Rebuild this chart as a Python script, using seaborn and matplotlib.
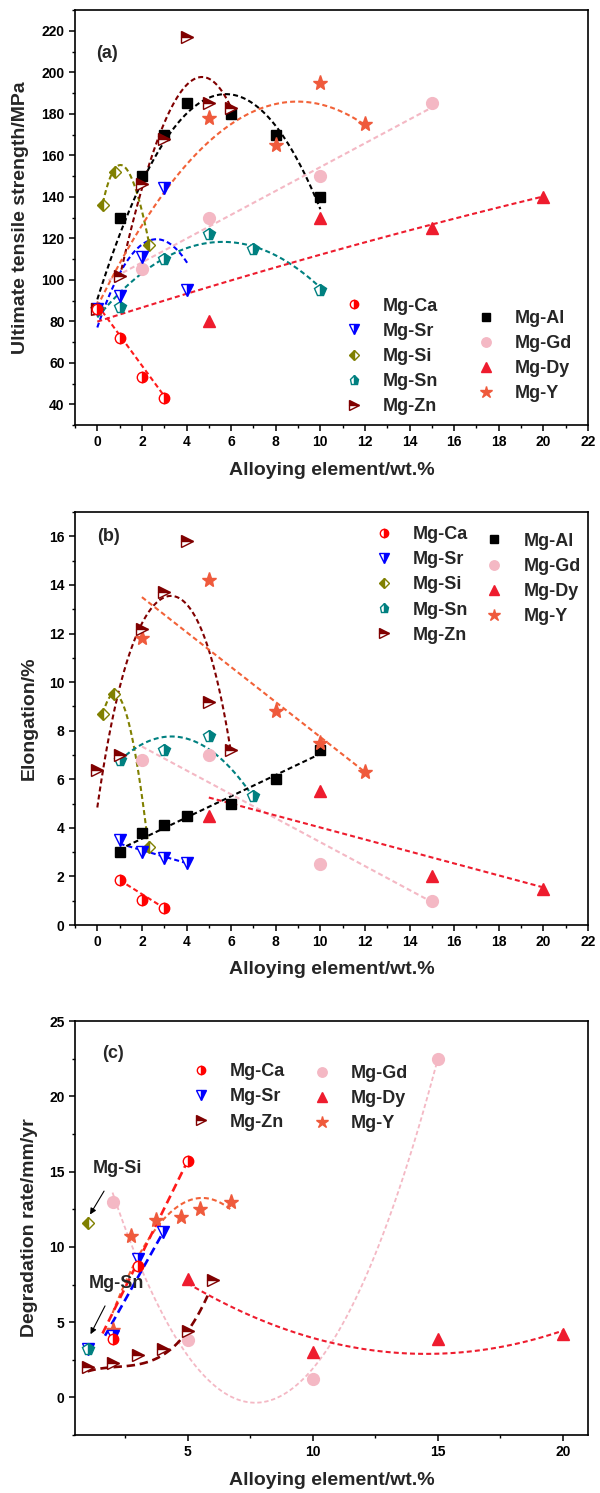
import numpy as np
import pandas as pd
import matplotlib
matplotlib.use("Agg")
import matplotlib.pyplot as plt
from matplotlib.ticker import MultipleLocator
import seaborn as sns

# ---------------- Panel (a): ultimate tensile strength (MPa) ----------------
A_CA_X = [0, 1, 2, 3];            A_CA_Y = [86, 72, 53, 43]
A_SR_X = [0, 1, 2, 3, 4];         A_SR_Y = [86, 92, 111, 144, 95]
A_SI_X = [0.25, 0.8, 2.3];        A_SI_Y = [136, 152, 117]
A_SN_X = [0, 1, 3, 5, 7, 10];     A_SN_Y = [86, 87, 110, 122, 115, 95]
A_ZN_X = [0, 1, 2, 3, 4, 5, 6];   A_ZN_Y = [86, 102, 146, 168, 217, 185, 183]
A_AL_X = [1, 2, 3, 4, 6, 8, 10];  A_AL_Y = [130, 150, 170, 185, 180, 170, 140]
A_GD_X = [2, 5, 10, 15];          A_GD_Y = [105, 130, 150, 185]
A_DY_X = [5, 10, 15, 20];         A_DY_Y = [80, 130, 125, 140]
A_Y_X = [0, 5, 8, 10, 12];        A_Y_Y = [86, 178, 165, 195, 175]

# trend curves of panel (a)
A_CA_FX = [0, 3];                               A_CA_FY = [88, 44]
A_SR_FX = [0, 1, 2, 2.7, 3.5, 4.1];             A_SR_FY = [78, 101, 117, 120.7, 116, 106]
A_SI_FX = [0.25, 0.6, 1.1, 1.5, 1.8, 2.35];     A_SI_FY = [137, 150, 155, 150, 141, 116]
A_SN_FX = [0, 2, 4, 5.6, 7, 8.5, 10];           A_SN_FY = [82, 103, 115, 118.5, 116, 109, 96]
A_ZN_FX = [1, 2, 2.75, 3.5, 4.45, 5.5, 6.1];    A_ZN_FY = [101, 146, 163, 191, 198, 189, 182]
A_AL_FX = [0, 1, 2, 3, 4, 5.6, 7, 8, 9.3, 10];  A_AL_FY = [90, 122, 148, 166, 180, 189, 184, 174, 154, 132]
A_GD_FX = [0.5, 2, 5, 10, 15];                  A_GD_FY = [100, 109, 124, 155, 183]
A_DY_FX = [0, 4, 10, 15, 20];                   A_DY_FY = [80, 93, 112, 127, 140]
A_Y_FX = [0, 3, 5, 7.3, 9, 12];                 A_Y_FY = [86, 145, 165, 182, 185.5, 175]

# ---------------- Panel (b): elongation (%) ----------------
B_CA_X = [1, 2, 3];               B_CA_Y = [1.85, 1.05, 0.7]
B_SR_X = [1, 2, 3, 4];            B_SR_Y = [3.5, 3.0, 2.75, 2.55]
B_SI_X = [0.25, 0.75, 2.3];       B_SI_Y = [8.7, 9.5, 3.2]
B_SN_X = [1, 3, 5, 7];            B_SN_Y = [6.8, 7.2, 7.8, 5.3]
B_ZN_X = [0, 1, 2, 3, 4, 5, 6];   B_ZN_Y = [6.4, 7.0, 12.2, 13.7, 15.8, 9.2, 7.2]
B_AL_X = [1, 2, 3, 4, 6, 8, 10];  B_AL_Y = [3.0, 3.8, 4.1, 4.5, 5.0, 6.0, 7.2]
B_GD_X = [2, 5, 10, 15];          B_GD_Y = [6.8, 7.0, 2.5, 1.0]
B_DY_X = [5, 10, 15, 20];         B_DY_Y = [4.5, 5.5, 2.0, 1.5]
B_Y_X = [2, 5, 8, 10, 12];        B_Y_Y = [11.8, 14.2, 8.8, 7.5, 6.3]

B_CA_FX = [1, 3];                               B_CA_FY = [1.85, 0.7]
B_SR_FX = [1, 4];                               B_SR_FY = [3.35, 2.55]
B_SI_FX = [0.25, 0.6, 0.95, 1.47, 2.0, 2.25];   B_SI_FY = [8.7, 9.4, 9.5, 8.0, 5.4, 3.5]
B_SN_FX = [1, 2, 3.5, 5, 5.9, 6.8];             B_SN_FY = [6.8, 7.4, 7.7, 7.35, 6.5, 5.5]
B_ZN_FX = [0, 0.5, 1.3, 2, 2.5, 3.2, 4, 4.8, 5.4, 5.8, 6]
B_ZN_FY = [4.8, 7.7, 10.9, 12.1, 13.2, 13.7, 13.2, 11.7, 10.2, 7.9, 7.2]
B_AL_FX = [1.3, 10];                            B_AL_FY = [3.25, 7.05]
B_GD_FX = [2, 15];                              B_GD_FY = [7.35, 0.95]
B_DY_FX = [5, 20];                              B_DY_FY = [5.25, 1.55]
B_Y_FX = [2, 12];                               B_Y_FY = [13.5, 6.3]

# ---------------- Panel (c): degradation rate (mm/yr) ----------------
C_CA_X = [2, 3, 5];               C_CA_Y = [3.9, 8.7, 15.7]
C_SR_X = [1, 2, 3, 4];            C_SR_Y = [3.25, 4.1, 9.2, 11.0]
C_ZN_X = [1, 2, 3, 4, 5, 6];      C_ZN_Y = [2.0, 2.3, 2.8, 3.2, 4.4, 7.8]
C_SI_X = [1];                     C_SI_Y = [11.6]
C_SN_X = [1];                     C_SN_Y = [3.2]
C_GD_X = [2, 5, 10, 15];          C_GD_Y = [13.0, 3.8, 1.2, 22.5]
C_DY_X = [5, 10, 15, 20];         C_DY_Y = [7.9, 3.0, 3.9, 4.2]
C_Y_X = [2, 2.75, 3.75, 4.75, 5.5, 6.75]
C_Y_Y = [4.5, 10.7, 11.8, 12.0, 12.5, 13.0]

C_CA_FX = [1.6, 5];                    C_CA_FY = [4.25, 15.7]
C_SR_FX = [1.7, 4.1];                  C_SR_FY = [4.1, 11.2]
C_ZN_FX = [1, 2, 3, 4, 5, 5.8];        C_ZN_FY = [1.75, 1.95, 2.2, 2.9, 4.3, 6.8]
C_GD_FX = [2, 5, 7.7, 10, 15];         C_GD_FY = [13.6, 2.8, -0.35, 1.9, 22.5]
C_DY_FX = [5, 10, 14.5, 20];           C_DY_FY = [7.57, 4.0, 2.85, 4.45]
C_Y_FX = [2, 2.7, 4.1, 5.6, 6.7];      C_Y_FY = [5.5, 8.5, 11.8, 13.3, 12.5]

LEFT_NAMES_AB = ["Mg-Ca", "Mg-Sr", "Mg-Si", "Mg-Sn", "Mg-Zn"]
RIGHT_NAMES = ["Mg-Al", "Mg-Gd", "Mg-Dy", "Mg-Y"]
LEFT_NAMES_C = ["Mg-Ca", "Mg-Sr", "Mg-Zn"]
RIGHT_NAMES_C = ["Mg-Gd", "Mg-Dy", "Mg-Y"]

# ---------------- styles ----------------
STY = {
    "Mg-Ca": dict(color="#FF0000", marker="o", fs="right", ms=7.5),
    "Mg-Sr": dict(color="#0000FF", marker="v", fs="right", ms=8.5),
    "Mg-Si": dict(color="#808000", marker="D", fs="left", ms=6.5),
    "Mg-Sn": dict(color="#008080", marker="p", fs="right", ms=8.5),
    "Mg-Zn": dict(color="#800000", marker=">", fs="top", ms=8.5),
    "Mg-Al": dict(color="#000000", marker="s", fs="full", ms=7),
    "Mg-Gd": dict(color="#F4B8C4", marker="o", fs="full", ms=8.5),
    "Mg-Dy": dict(color="#EE1C2E", marker="^", fs="full", ms=8.5),
    "Mg-Y":  dict(color="#EF5A3C", marker="*", fs="full", ms=11),
}
LINE_COL = {"Mg-Ca": "#FF1A1A", "Mg-Sr": "#0000FF", "Mg-Si": "#808000",
            "Mg-Sn": "#008080", "Mg-Zn": "#800000", "Mg-Al": "#000000",
            "Mg-Gd": "#F4B8C4", "Mg-Dy": "#EE1C2E", "Mg-Y": "#F26238"}

sns.set_theme(style="ticks")
plt.rcParams.update({
    "font.family": ["Liberation Sans", "DejaVu Sans"],
    "font.weight": "bold",
    "axes.labelweight": "bold",
    "axes.linewidth": 1.2,
    "axes.edgecolor": "black",
    "xtick.color": "black", "ytick.color": "black",
    "xtick.direction": "out", "ytick.direction": "out",
    "xtick.major.size": 4, "ytick.major.size": 4,
    "xtick.minor.size": 2.5, "ytick.minor.size": 2.5,
    "xtick.major.width": 1.1, "ytick.major.width": 1.1,
    "xtick.minor.width": 1.0, "ytick.minor.width": 1.0,
    "xtick.labelsize": 10, "ytick.labelsize": 10,
    "xtick.minor.visible": True, "ytick.minor.visible": True,
})


def pts(ax, name, x, y):
    s = STY[name]
    sns.lineplot(x=x, y=y, ax=ax, color=s["color"], marker=s["marker"],
                 linestyle="none", fillstyle=s["fs"], markerfacecoloralt="white",
                 markeredgecolor=s["color"], markeredgewidth=1.0,
                 markersize=s["ms"], legend=False, zorder=5,
                 estimator=None, sort=False)
    return ax.lines[-1]


def fit(ax, name, fx, fy, order, long=False, lw=1.5):
    if long:
        dash = (3.2, 1.8)
        lw = 1.9
    else:
        dash = (2.4, 1.5)
    sns.regplot(x=fx, y=fy, ax=ax, order=order, ci=None, scatter=False,
                truncate=True,
                line_kws=dict(color=LINE_COL[name], linewidth=lw,
                              dashes=dash, zorder=3))


def legends(ax, h, names1, names2, a1, a2):
    kw = dict(loc="upper left", frameon=False, fontsize=13, handlelength=1.0,
              handletextpad=1.1, labelspacing=0.45, borderpad=0,
              borderaxespad=0, markerscale=0.8)
    lg1 = ax.legend(handles=[h[n] for n in names1], labels=names1,
                    bbox_to_anchor=a1, **kw)
    ax.add_artist(lg1)
    ax.legend(handles=[h[n] for n in names2], labels=names2,
              bbox_to_anchor=a2, **kw)


fig = plt.figure(figsize=(6.0, 14.93), dpi=100)
L, W = 0.125, 0.855
axA = fig.add_axes([L, 0.7153, W, 0.278])
axB = fig.add_axes([L, 0.3804, W, 0.2766])
axC = fig.add_axes([L, 0.0388, W, 0.2773])

# ---- panel (a)
ax = axA
fit(ax, "Mg-Ca", A_CA_FX, A_CA_FY, 1)
fit(ax, "Mg-Sr", A_SR_FX, A_SR_FY, 2)
fit(ax, "Mg-Si", A_SI_FX, A_SI_FY, 3)
fit(ax, "Mg-Sn", A_SN_FX, A_SN_FY, 2)
fit(ax, "Mg-Zn", A_ZN_FX, A_ZN_FY, 3)
fit(ax, "Mg-Al", A_AL_FX, A_AL_FY, 3)
fit(ax, "Mg-Gd", A_GD_FX, A_GD_FY, 1)
fit(ax, "Mg-Dy", A_DY_FX, A_DY_FY, 2)
fit(ax, "Mg-Y", A_Y_FX, A_Y_FY, 2)
hA = {}
for n, x, y in [("Mg-Gd", A_GD_X, A_GD_Y), ("Mg-Dy", A_DY_X, A_DY_Y),
                ("Mg-Al", A_AL_X, A_AL_Y), ("Mg-Y", A_Y_X, A_Y_Y),
                ("Mg-Sn", A_SN_X, A_SN_Y), ("Mg-Si", A_SI_X, A_SI_Y),
                ("Mg-Sr", A_SR_X, A_SR_Y), ("Mg-Zn", A_ZN_X, A_ZN_Y),
                ("Mg-Ca", A_CA_X, A_CA_Y)]:
    hA[n] = pts(ax, n, x, y)
ax.set_xlim(-1, 22)
ax.set_ylim(30, 230)
ax.xaxis.set_major_locator(MultipleLocator(2))
ax.xaxis.set_minor_locator(MultipleLocator(1))
ax.yaxis.set_major_locator(MultipleLocator(20))
ax.yaxis.set_minor_locator(MultipleLocator(10))
ax.set_ylabel("Ultimate tensile strength/MPa", fontsize=14)
ax.yaxis.set_label_coords(-0.090, 0.5)
ax.text(0.45, 209, "(a)", fontsize=13, fontweight="bold", ha="center", va="center")
legends(ax, hA, LEFT_NAMES_AB, RIGHT_NAMES, (0.526, 0.307), (0.783, 0.277))

# ---- panel (b)
ax = axB
fit(ax, "Mg-Ca", B_CA_FX, B_CA_FY, 1)
fit(ax, "Mg-Sr", B_SR_FX, B_SR_FY, 1)
fit(ax, "Mg-Si", B_SI_FX, B_SI_FY, 3)
fit(ax, "Mg-Sn", B_SN_FX, B_SN_FY, 2)
fit(ax, "Mg-Zn", B_ZN_FX, B_ZN_FY, 4)
fit(ax, "Mg-Al", B_AL_FX, B_AL_FY, 1)
fit(ax, "Mg-Gd", B_GD_FX, B_GD_FY, 1)
fit(ax, "Mg-Dy", B_DY_FX, B_DY_FY, 1)
fit(ax, "Mg-Y", B_Y_FX, B_Y_FY, 1)
hB = {}
for n, x, y in [("Mg-Gd", B_GD_X, B_GD_Y), ("Mg-Dy", B_DY_X, B_DY_Y),
                ("Mg-Al", B_AL_X, B_AL_Y), ("Mg-Y", B_Y_X, B_Y_Y),
                ("Mg-Sn", B_SN_X, B_SN_Y), ("Mg-Si", B_SI_X, B_SI_Y),
                ("Mg-Sr", B_SR_X, B_SR_Y), ("Mg-Zn", B_ZN_X, B_ZN_Y),
                ("Mg-Ca", B_CA_X, B_CA_Y)]:
    hB[n] = pts(ax, n, x, y)
ax.set_xlim(-1, 22)
ax.set_ylim(0, 17)
ax.xaxis.set_major_locator(MultipleLocator(2))
ax.xaxis.set_minor_locator(MultipleLocator(1))
ax.yaxis.set_major_locator(MultipleLocator(2))
ax.yaxis.set_minor_locator(MultipleLocator(1))
ax.set_ylabel("Elongation/%", fontsize=14)
ax.yaxis.set_label_coords(-0.073, 0.5)
ax.text(0.5, 16.0, "(b)", fontsize=13, fontweight="bold", ha="center", va="center")
legends(ax, hB, LEFT_NAMES_AB, RIGHT_NAMES, (0.585, 0.966), (0.800, 0.950))

# ---- panel (c)
ax = axC
fit(ax, "Mg-Gd", C_GD_FX, C_GD_FY, 2, lw=1.3)
fit(ax, "Mg-Dy", C_DY_FX, C_DY_FY, 2)
fit(ax, "Mg-Y", C_Y_FX, C_Y_FY, 2)
fit(ax, "Mg-Zn", C_ZN_FX, C_ZN_FY, 3, long=True)
fit(ax, "Mg-Sr", C_SR_FX, C_SR_FY, 1, long=True)
fit(ax, "Mg-Ca", C_CA_FX, C_CA_FY, 1, long=True)
hC = {}
for n, x, y in [("Mg-Gd", C_GD_X, C_GD_Y), ("Mg-Dy", C_DY_X, C_DY_Y),
                ("Mg-Y", C_Y_X, C_Y_Y), ("Mg-Zn", C_ZN_X, C_ZN_Y),
                ("Mg-Si", C_SI_X, C_SI_Y), ("Mg-Sr", C_SR_X, C_SR_Y),
                ("Mg-Ca", C_CA_X, C_CA_Y), ("Mg-Sn", C_SN_X, C_SN_Y)]:
    hC[n] = pts(ax, n, x, y)
ax.set_xlim(0.5, 21)
ax.set_ylim(-2.5, 25)
ax.xaxis.set_major_locator(MultipleLocator(5))
ax.xaxis.set_minor_locator(MultipleLocator(2.5))
ax.yaxis.set_major_locator(MultipleLocator(5))
ax.yaxis.set_minor_locator(MultipleLocator(2.5))
ax.set_ylabel("Degradation rate/mm/yr", fontsize=14)
ax.yaxis.set_label_coords(-0.073, 0.5)
ax.text(2.0, 22.85, "(c)", fontsize=13, fontweight="bold", ha="center", va="center")
ax.annotate("Mg-Si", xy=(1.1, 12.15), xytext=(2.2, 15.2), fontsize=13,
            fontweight="bold", ha="center", va="center",
            arrowprops=dict(arrowstyle="-|>", color="black", lw=0.8,
                            mutation_scale=9, shrinkA=9, shrinkB=0))
ax.annotate("Mg-Sn", xy=(1.12, 4.2), xytext=(2.17, 7.6), fontsize=13,
            fontweight="bold", ha="center", va="center",
            arrowprops=dict(arrowstyle="-|>", color="black", lw=0.8,
                            mutation_scale=9, shrinkA=9, shrinkB=0))
legends(ax, hC, LEFT_NAMES_C, RIGHT_NAMES_C, (0.228, 0.898), (0.463, 0.894))

for a in (axA, axB, axC):
    a.set_xlabel("Alloying element/wt.%", fontsize=14)
    a.xaxis.set_label_coords(0.5, -0.088)
    for sp in a.spines.values():
        sp.set_visible(True)
        sp.set_linewidth(1.2)
    a.tick_params(which="both", top=False, right=False)

fig.savefig("out.png", dpi=100)
